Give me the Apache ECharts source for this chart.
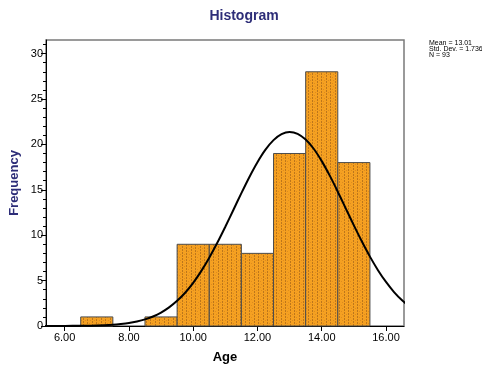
<!DOCTYPE html>
<html>
<head>
<meta charset="utf-8">
<script src="https://cdn.jsdelivr.net/npm/echarts@6/dist/echarts.min.js"></script>
<style>html,body{margin:0;padding:0;background:#fff}#c{width:482px;height:366px}</style>
</head>
<body>
<div id="c"></div>
<script>
// ---- data ----
const binCenters = [7, 9, 10, 11, 12, 13, 14, 15];
const binCounts = [1, 1, 9, 9, 8, 19, 28, 18];
const binWidth = 1;
const curveX = [5.0, 5.5, 6.0, 6.5, 7.0, 7.5, 7.75, 8.0, 8.25, 8.5, 8.75, 9.0, 9.25, 9.5, 9.75, 10.0, 10.25, 10.5, 10.75, 11.0, 11.25, 11.5, 11.75, 12.0, 12.25, 12.5, 12.75, 13.0, 13.25, 13.5, 13.75, 14.0, 14.25, 14.5, 14.75, 15.0, 15.25, 15.5, 15.75, 16.0, 16.25, 16.5, 16.75, 17.0];
const curveY = [0.00, 0.00, 0.01, 0.02, 0.05, 0.14, 0.22, 0.33, 0.50, 0.73, 1.05, 1.48, 2.05, 2.77, 3.66, 4.75, 6.04, 7.52, 9.16, 10.93, 12.78, 14.64, 16.42, 18.04, 19.42, 20.47, 21.13, 21.37, 21.17, 20.53, 19.52, 18.16, 16.56, 14.79, 12.93, 11.08, 9.30, 7.64, 6.15, 4.85, 3.74, 2.83, 2.10, 1.52];
const xTickValues = [6, 8, 10, 12, 14, 16];
const yTickValues = [0, 5, 10, 15, 20, 25, 30];
const statsLines = ['Mean = 13.01', 'Std. Dev. = 1.736', 'N = 93'];
const titleText = 'Histogram';
const xName = 'Age';
const yName = 'Frequency';

// ---- pattern ----
const pc = document.createElement('canvas');
pc.width = 9; pc.height = 6;
const g = pc.getContext('2d');
g.fillStyle = '#F5A021'; g.fillRect(0, 0, 9, 6);
g.fillStyle = '#BD761B';
[[2,0],[2,1],[2,3],[2,4],[6,1],[6,2],[6,4],[6,5]].forEach(p => g.fillRect(p[0], p[1], 1, 1));
g.fillStyle = '#DE8B1E';
[[4,2],[8,5],[0,2]].forEach(p => g.fillRect(p[0], p[1], 1, 1));
const pattern = { image: pc, repeat: 'repeat' };

const histData = binCenters.map((c, i) => [c - binWidth / 2, c + binWidth / 2, binCounts[i]]);
const curveData = curveX.map((x, i) => [x, curveY[i]]);
const minorY = [];
for (let v = 0; v <= 31; v++) minorY.push(v);

const FONT = 'Liberation Sans, Arial, sans-serif';
const chart = echarts.init(document.getElementById('c'), null, { renderer: 'canvas' });
chart.setOption({
  animation: false,
  grid: { left: 46, right: 78, top: 40, bottom: 40, show: true, borderColor: '#7a7a7a', borderWidth: 1.5, backgroundColor: 'transparent' },
  xAxis: {
    type: 'value', min: 5.42, max: 16.56,
    axisLine: { show: true, onZero: false, lineStyle: { color: '#000', width: 1 } },
    axisTick: { show: true, customValues: xTickValues, length: 5, lineStyle: { color: '#000' } },
    axisLabel: { customValues: xTickValues, formatter: v => v.toFixed(2), color: '#000', fontFamily: FONT, fontSize: 11, margin: 6 },
    splitLine: { show: false }
  },
  yAxis: [{
    type: 'value', min: 0, max: 31.5,
    axisLine: { show: true, lineStyle: { color: '#000', width: 1 } },
    axisTick: { show: true, customValues: yTickValues, length: 5, lineStyle: { color: '#000' } },
    axisLabel: { customValues: yTickValues, color: '#000', fontFamily: FONT, fontSize: 11, margin: 3 },
    splitLine: { show: false }
  }, {
    type: 'value', min: 0, max: 31.5, position: 'left',
    axisLine: { show: false },
    axisTick: { show: true, customValues: minorY, length: 3, lineStyle: { color: '#000' } },
    axisLabel: { show: false },
    splitLine: { show: false }
  }],
  series: [{
    type: 'custom',
    data: histData,
    z: 2,
    renderItem: function (params, api) {
      const p1 = api.coord([api.value(0), api.value(2)]);
      const p2 = api.coord([api.value(1), 0]);
      return {
        type: 'rect',
        shape: { x: p1[0], y: p1[1], width: p2[0] - p1[0], height: p2[1] - p1[1] },
        style: { fill: pattern, stroke: '#4d4d4d', lineWidth: 1 }
      };
    }
  }, {
    type: 'line',
    data: curveData,
    smooth: 0.3,
    showSymbol: false,
    symbol: 'none',
    clip: true,
    z: 5,
    lineStyle: { color: '#000', width: 2 }
  }],
  graphic: [
    { type: 'text', x: 244, y: 9, style: { text: titleText, font: 'bold 14px ' + FONT, fill: '#2d2d78', align: 'center' } },
    { type: 'text', x: 14, y: 183, rotation: Math.PI / 2, style: { text: yName, font: 'bold 13px ' + FONT, fill: '#2d2d78', align: 'center', verticalAlign: 'middle' } },
    { type: 'text', x: 225, y: 357, style: { text: xName, font: 'bold 13px ' + FONT, fill: '#000', align: 'center', verticalAlign: 'middle' } },
    { type: 'text', x: 429, y: 40, style: { text: statsLines.join('\n'), font: '7px ' + FONT, fill: '#000', lineHeight: 6 } }
  ]
});
</script>
</body>
</html>
